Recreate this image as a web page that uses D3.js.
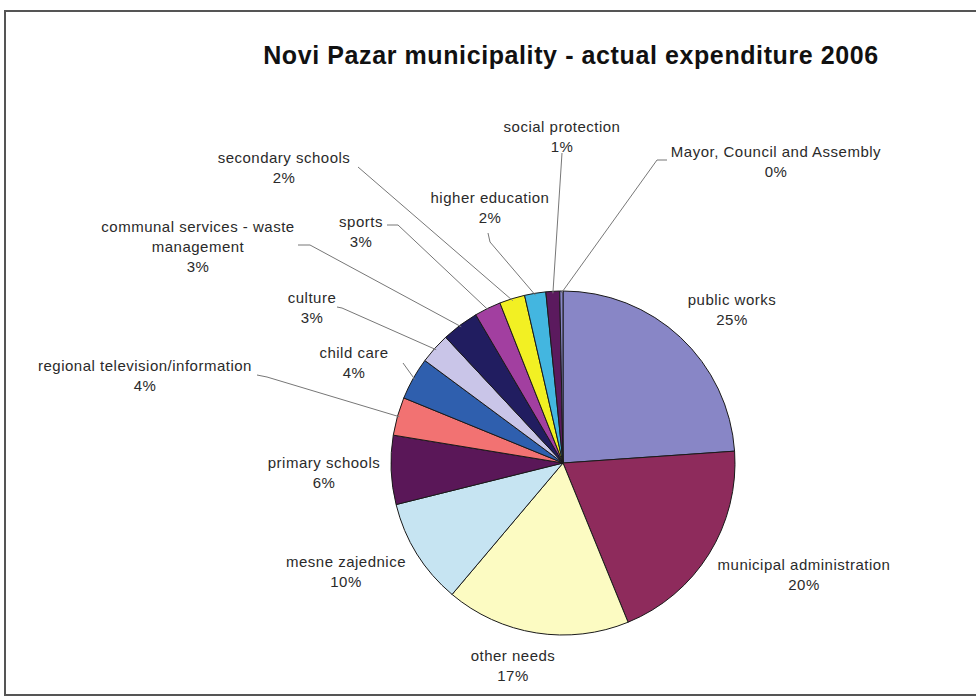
<!DOCTYPE html>
<html><head><meta charset="utf-8">
<script src="https://cdn.jsdelivr.net/npm/d3@7"></script>
<style>
html,body{margin:0;padding:0;background:#fff;}
svg{display:block;}
text{font-family:"Liberation Sans",Arial,sans-serif;}
</style></head>
<body>
<svg id="chart" width="976" height="699"></svg>
<script>
// ---- data ----
const categories = ["public works","municipal administration","other needs","mesne zajednice","primary schools","regional television/information","child care","culture","communal services - waste management","sports","secondary schools","higher education","social protection","Mayor, Council and Assembly"];
const values = [24.0, 20.0, 17.4, 10.0, 6.5, 3.6, 4.0, 2.9, 3.5, 2.5, 2.4, 2.0, 1.3, 0.3];
const pctLabels = ["25%","20%","17%","10%","6%","4%","4%","3%","3%","3%","2%","2%","1%","0%"];
const colors = ["#8886c6","#8e2b5c","#fcfbc2","#c6e4f2","#5a1758","#f27272","#2f5fae","#c9c5e8","#211d60","#a23fa0","#f2f023","#43b6e0","#5b1a5e","#8886c6"];
const title = "Novi Pazar municipality - actual expenditure 2006";

// ---- layout (label anchors: centre x, first baseline y, lines; leader start point or null) ----
const labelLayout = [
  {x:732, y:305, lines:["public works"], lead:null},
  {x:804, y:570, lines:["municipal administration"], lead:null},
  {x:513, y:661, lines:["other needs"], lead:null},
  {x:346, y:567, lines:["mesne zajednice"], lead:null},
  {x:324, y:468, lines:["primary schools"], lead:null},
  {x:145, y:371, lines:["regional television/information"], lead:[[257,375],[267,377]]},
  {x:354, y:358, lines:["child care"], lead:[[403,363]]},
  {x:312, y:303, lines:["culture"], lead:[[337,307],[342,308]]},
  {x:198, y:232, lines:["communal services - waste","management"], lead:[[298,245],[310,245]]},
  {x:361, y:227, lines:["sports"], lead:[[387,225],[398,225]]},
  {x:284, y:163, lines:["secondary schools"], lead:[[358,167]]},
  {x:490, y:203, lines:["higher education"], lead:[[488,233],[490,242]]},
  {x:562, y:132, lines:["social protection"], lead:[[562,153]]},
  {x:776, y:157, lines:["Mayor, Council and Assembly"], lead:[[667,160],[657,160]]}
];

const W = 976, H = 699;
const cx = 563, cy = 463, R = 172;
const svg = d3.select("#chart");

// frame
svg.append("rect").attr("x",5).attr("y",11).attr("width",980).attr("height",684)
  .attr("fill","none").attr("stroke","#555").attr("stroke-width",2);

// title
svg.append("text").attr("x",571).attr("y",64).attr("text-anchor","middle")
  .attr("font-size",25).attr("font-weight","bold").attr("fill","#111")
  .attr("letter-spacing","0.6").text(title);

const data = categories.map((c,i)=>({name:c, value:values[i], pct:pctLabels[i], color:colors[i], layout:labelLayout[i]}));
const pie = d3.pie().value(d=>d.value).sort(null).startAngle(0).endAngle(2*Math.PI);
const arcs = pie(data);
const arc = d3.arc().innerRadius(0).outerRadius(R);

const g = svg.append("g").attr("transform",`translate(${cx},${cy})`);
g.selectAll("path.slice").data(arcs).enter().append("path")
  .attr("class","slice").attr("d",arc)
  .attr("fill",d=>d.data.color).attr("stroke","#1a1a1a").attr("stroke-width",1);

// leader lines
arcs.forEach(a=>{
  const L = a.data.layout;
  if(!L.lead) return;
  const mid = (a.startAngle+a.endAngle)/2;
  const ex = cx + (R-2)*Math.sin(mid), ey = cy - (R-2)*Math.cos(mid);
  const pts = L.lead.concat([[ex,ey]]);
  svg.append("path").attr("d",d3.line()(pts)).attr("fill","none")
    .attr("stroke","#777").attr("stroke-width",1);
});

// labels
arcs.forEach(a=>{
  const L = a.data.layout;
  const t = svg.append("text").attr("text-anchor","middle").attr("font-size",15).attr("fill","#2a2a2a")
    .attr("letter-spacing","0.5");
  const lines = L.lines.concat([a.data.pct]);
  lines.forEach((ln,i)=>{
    t.append("tspan").attr("x",L.x).attr("y",L.y + i*20).text(ln);
  });
});
</script>
</body></html>
